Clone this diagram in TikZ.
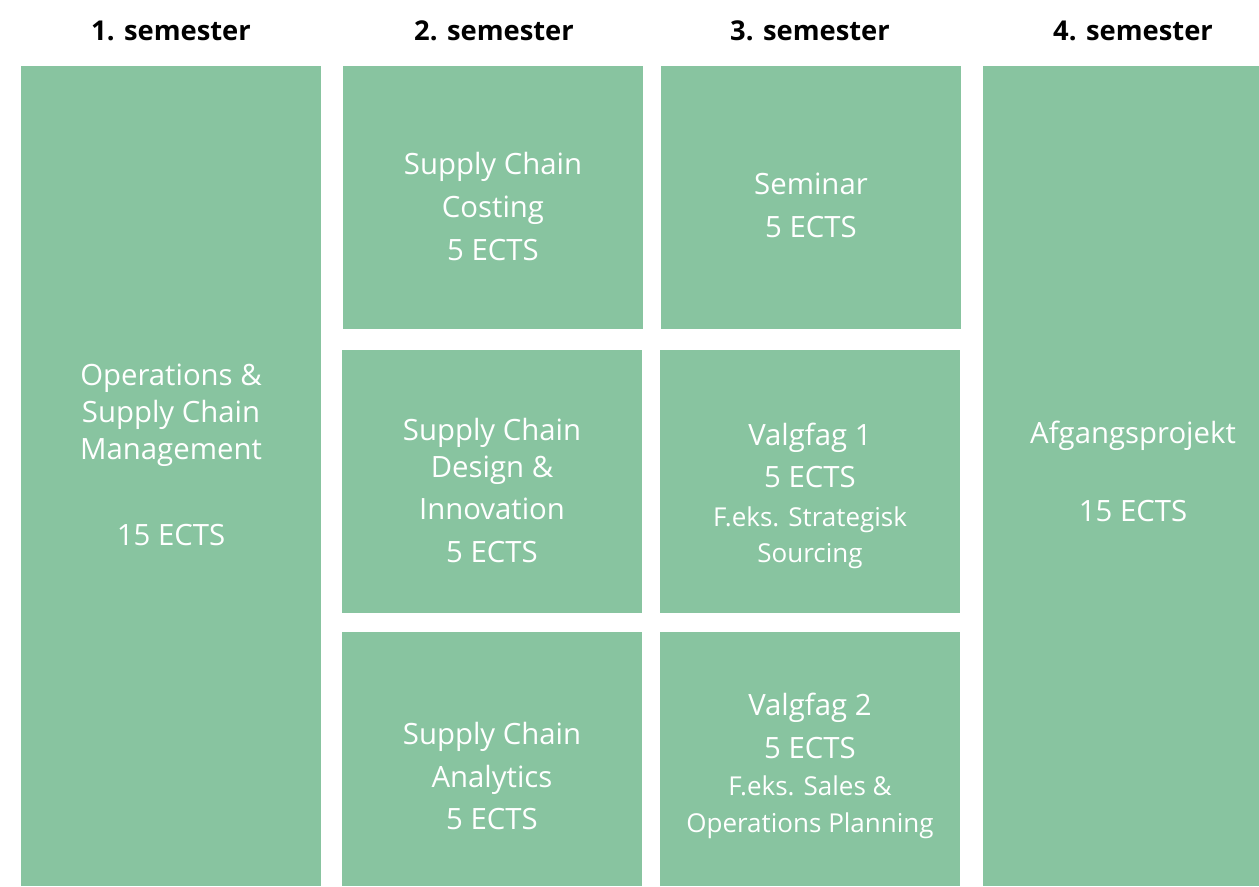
\documentclass[tikz,border=0pt]{standalone}
\usepackage{fontspec}
\setmainfont{Open Sans}
\usepackage{xcolor}
\definecolor{coursegreen}{RGB}{136,196,160}

\tikzset{
  course/.style={fill=coursegreen, inner sep=0pt, minimum width=225pt},
  coursetext/.style={text=white, inner sep=0pt, align=center,
    font=\fontsize{22}{32}\selectfont},
  semhead/.style={inner sep=0.75pt, font=\fontsize{20.5}{24}\selectfont\bfseries},
}
\newcommand{\smallline}[1]{{\fontsize{19.5}{20}\selectfont #1}}

\begin{document}
\begin{tikzpicture}[x=0.75pt,y=0.75pt,yscale=-1,xscale=1]
\useasboundingbox (0,0) rectangle (1259,886);
\clip (0,0) rectangle (1259,886);

% Text Node
\node[semhead] (h1) at (171,31) {1. semester};
% Text Node
\node[semhead] (h2) at (494,31) {2. semester};
% Text Node
\node[semhead] (h3) at (810,31) {3. semester};
% Text Node
\node[semhead] (h4) at (1133,31) {4. semester};

%Shape: Rectangle [1. semester]
\node[course, minimum height=615pt] (osc) at (171,476) {};
\node[coursetext] (osct) at ([yshift=-15.75pt]osc.center)
  {Operations \&\\[-4.25pt]Supply Chain\\[-4.25pt]Management\\[32.5pt]15 ECTS};

%Shape: Rectangle [2. semester]
\node[course, minimum height=197.25pt] (scc) at (493,197.5) {};
\node[coursetext] (scct) at ([yshift=6.75pt]scc.center)
  {Supply Chain\\Costing\\5 ECTS};
\node[course, minimum height=197.25pt] (scd) at (492,481.5) {};
\node[coursetext] (scdt) at ([yshift=6.75pt]scd.center)
  {Supply Chain\\[-4.5pt]Design \&\\Innovation\\5 ECTS};
\node[course, minimum height=190.5pt] (sca) at (492,759) {};
\node[coursetext] (scat) at ([yshift=12.75pt]sca.center)
  {Supply Chain\\Analytics\\5 ECTS};

%Shape: Rectangle [3. semester]
\node[course, minimum height=197.25pt] (sem) at (811,197.5) {};
\node[coursetext] (semt) at ([yshift=6pt]sem.center)
  {Seminar\\5 ECTS};
\node[course, minimum height=197.25pt] (vf1) at (810,481.5) {};
\node[coursetext] (vf1t) at ([yshift=10.5pt]vf1.center)
  {Valgfag 1\\5 ECTS\\[-3pt]\smallline{F.eks. Strategisk}\\[-5.25pt]\smallline{Sourcing}};
\node[course, minimum height=190.5pt] (vf2) at (810,759) {};
\node[coursetext] (vf2t) at ([yshift=5.25pt]vf2.center)
  {Valgfag 2\\5 ECTS\\[-3.75pt]\smallline{F.eks. Sales \&}\\[-4.5pt]\smallline{Operations Planning}};

%Shape: Rectangle [4. semester]
\node[course, minimum height=615pt] (afp) at (1133,476) {};
\node[coursetext] (afpt) at ([yshift=-3.75pt]afp.center)
  {Afgangsprojekt\\[26.5pt]15 ECTS};

\end{tikzpicture}
\end{document}
